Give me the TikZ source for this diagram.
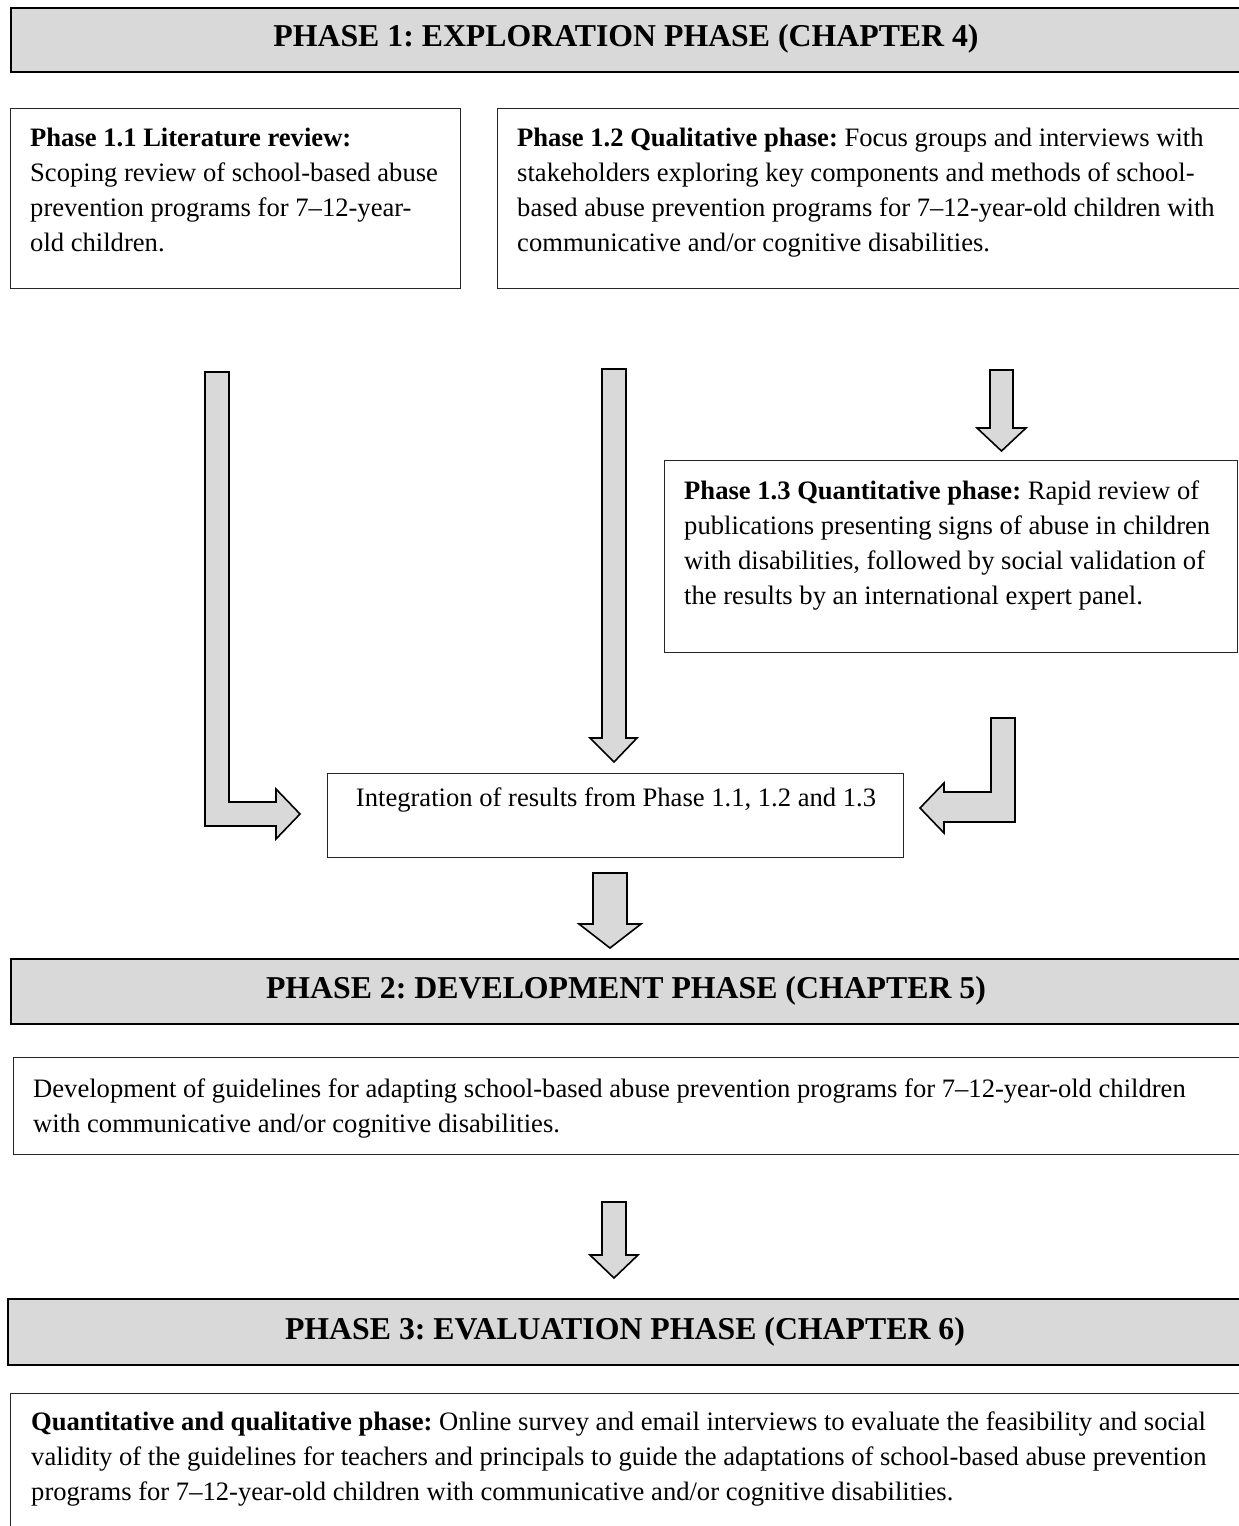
\documentclass[tikz,border=0pt]{standalone}
\usepackage{fontspec}
\setmainfont{Liberation Serif}
\frenchspacing
\definecolor{hdrgray}{HTML}{D9D9D9}
\tikzset{
  hdr/.style={draw=black, line width=2.4pt, fill=hdrgray, anchor=north west, inner sep=0pt,
    font=\fontsize{31.8}{36}\selectfont\bfseries},
  box/.style={draw=black!85, line width=1.3pt, anchor=north west, inner sep=0pt},
  txt/.style={anchor=north west, inner sep=0pt, align=left, font=\fontsize{26.6}{35}\selectfont},
  blockarrow/.style={draw=black, line width=1.6pt, fill=hdrgray, line join=miter}
}
\begin{document}
\begin{tikzpicture}[x=1pt, y=-1pt]
\clip (0,0) rectangle (1239,1526);
\fill[white] (0,0) rectangle (1239,1526);

% Phase 1 header
\node[hdr, minimum width=1240, minimum height=64] (h1) at (10,7) {};
\node[font=\fontsize{31.8}{36}\selectfont\bfseries] (h1t) at (626,39) {PHASE 1: EXPLORATION PHASE (CHAPTER 4)};

% Phase 1.1
\node[box, minimum width=450, minimum height=180] (b11) at (10,108) {};
\node[txt] (t11) at ([shift={(20,20)}]b11.north west)
  {\textbf{Phase 1.1 Literature review:}\\Scoping review of school-based abuse\\prevention programs for 7--12-year-\\old children.};

% Phase 1.2
\node[box, minimum width=760, minimum height=180] (b12) at (497,108) {};
\node[txt] (t12) at ([shift={(20,20)}]b12.north west)
  {\textbf{Phase 1.2 Qualitative phase:} Focus groups and interviews with\\stakeholders exploring key components and methods of school-\\based abuse prevention programs for 7--12-year-old children with\\communicative and/or cognitive disabilities.};

% Phase 1.3
\node[box, minimum width=573, minimum height=192] (b13) at (664,460) {};
\node[txt] (t13) at ([shift={(20,21)}]b13.north west)
  {\textbf{Phase 1.3 Quantitative phase:} Rapid review of\\publications presenting signs of abuse in children\\with disabilities, followed by social validation of\\the results by an international expert panel.};

% Integration
\node[box, minimum width=576, minimum height=84] (int) at (327,773) {};
\node[font=\fontsize{26.6}{35}\selectfont, inner sep=0pt] (intt) at (616,800) {Integration of results from Phase 1.1, 1.2 and 1.3};

% Phase 2 header
\node[hdr, minimum width=1240, minimum height=65] (h2) at (10,958) {};
\node[font=\fontsize{31.8}{36}\selectfont\bfseries] (h2t) at (626,991) {PHASE 2: DEVELOPMENT PHASE (CHAPTER 5)};

% Phase 2 box
\node[box, minimum width=1240, minimum height=97] (b2) at (13,1057) {};
\node[txt] (t2) at ([shift={(20,22)}]b2.north west)
  {Development of guidelines for adapting school-based abuse prevention programs for 7--12-year-old children\\with communicative and/or cognitive disabilities.};

% Phase 3 header
\node[hdr, minimum width=1240, minimum height=66] (h3) at (7,1298) {};
\node[font=\fontsize{31.8}{36}\selectfont\bfseries] (h3t) at (625,1332) {PHASE 3: EVALUATION PHASE (CHAPTER 6)};

% Phase 3 box
\node[box, minimum width=1240, minimum height=160] (b3) at (10,1393) {};
\node[txt] (t3) at ([shift={(21,19)}]b3.north west)
  {\textbf{Quantitative and qualitative phase:} Online survey and email interviews to evaluate the feasibility and social\\validity of the guidelines for teachers and principals to guide the adaptations of school-based abuse prevention\\programs for 7--12-year-old children with communicative and/or cognitive disabilities.};

% Block arrows
% left bent arrow
\draw[blockarrow] (205,372) -- (229,372) -- (229,802) -- (276,802) -- (276,789) -- (300,814)
  -- (276,839) -- (276,826) -- (205,826) -- cycle;
% middle long down arrow
\draw[blockarrow] (602,369) -- (626,369) -- (626,738) -- (637,738) -- (614,762) -- (590,738)
  -- (602,738) -- cycle;
% right small down arrow
\draw[blockarrow] (990,370) -- (1013,370) -- (1013,428) -- (1026,428) -- (1001.5,451) -- (977,428)
  -- (990,428) -- cycle;
% right bent arrow
\draw[blockarrow] (991,718) -- (1015,718) -- (1015,822) -- (944,822) -- (944,833) -- (920,808)
  -- (944,783) -- (944,792) -- (991,792) -- cycle;
% arrow below integration
\draw[blockarrow] (593,873) -- (627,873) -- (627,924) -- (641,924) -- (610,948) -- (579,924)
  -- (593,924) -- cycle;
% arrow below phase 2 box
\draw[blockarrow] (602,1202) -- (626,1202) -- (626,1255) -- (638,1255) -- (614,1278) -- (590,1255)
  -- (602,1255) -- cycle;
\end{tikzpicture}
\end{document}
